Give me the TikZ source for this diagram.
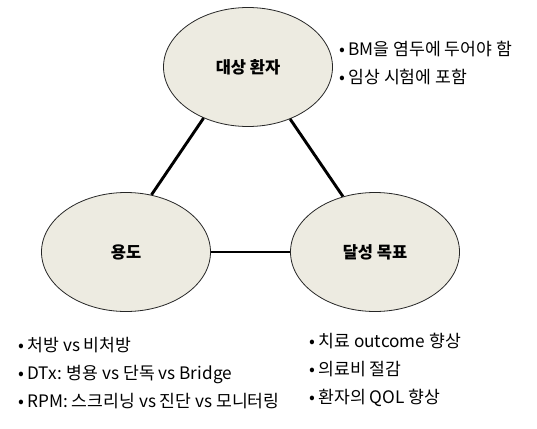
\documentclass[tikz,border=0pt]{standalone}
\usepackage{fontspec}
\setmainfont{Noto Sans CJK KR}
\usetikzlibrary{shapes.geometric}
\definecolor{ovalfill}{HTML}{EDEBE1}
\begin{document}
\begin{tikzpicture}[x=1pt, y=-1pt,
		oval/.style={ellipse, draw=black!85, line width=0.8pt, fill=ovalfill,
			minimum width=169pt, minimum height=119pt, inner sep=0pt,
			font=\fontsize{16.5}{18}\selectfont\bfseries},
		link/.style={line width=2.9pt, black},
		bullets/.style={align=left, anchor=west, inner sep=0pt,
			font=\fontsize{17.2}{28}\selectfont}]
		% Fix the page size
		\useasboundingbox (0,0) rectangle (537,428);
		
		% Draw the three ovals
		\node[oval] (patient) at (248,67) {대상 환자};
		\node[oval] (usage) at (126,252) {용도};
		\node[oval] (goal) at (375,252) {달성 목표};
		
		% Draw the links between the ovals
		\draw[link] (patient.229) -- (usage.66);
		\draw[link] (patient.309) -- (goal.120);
		\draw[link] (usage.east) -- (goal.west);
		
		% Bullet lists
		\node[bullets] (patientlist) at (339,63.5) {•\kern3.5pt BM을 염두에 두어야 함\\•\kern3.5pt 임상 시험에 포함};
		\node[bullets] (usagelist) at (18,373) {•\kern3.5pt 처방 vs 비처방\\•\kern3.5pt DTx: 병용 vs 단독 vs Bridge\\•\kern3.5pt RPM: 스크리닝 vs 진단 vs 모니터링};
		\node[bullets] (goallist) at (309,370) {•\kern3.5pt 치료 outcome 향상\\•\kern3.5pt 의료비 절감\\•\kern3.5pt 환자의 QOL 향상};
	\end{tikzpicture}
\end{document}
